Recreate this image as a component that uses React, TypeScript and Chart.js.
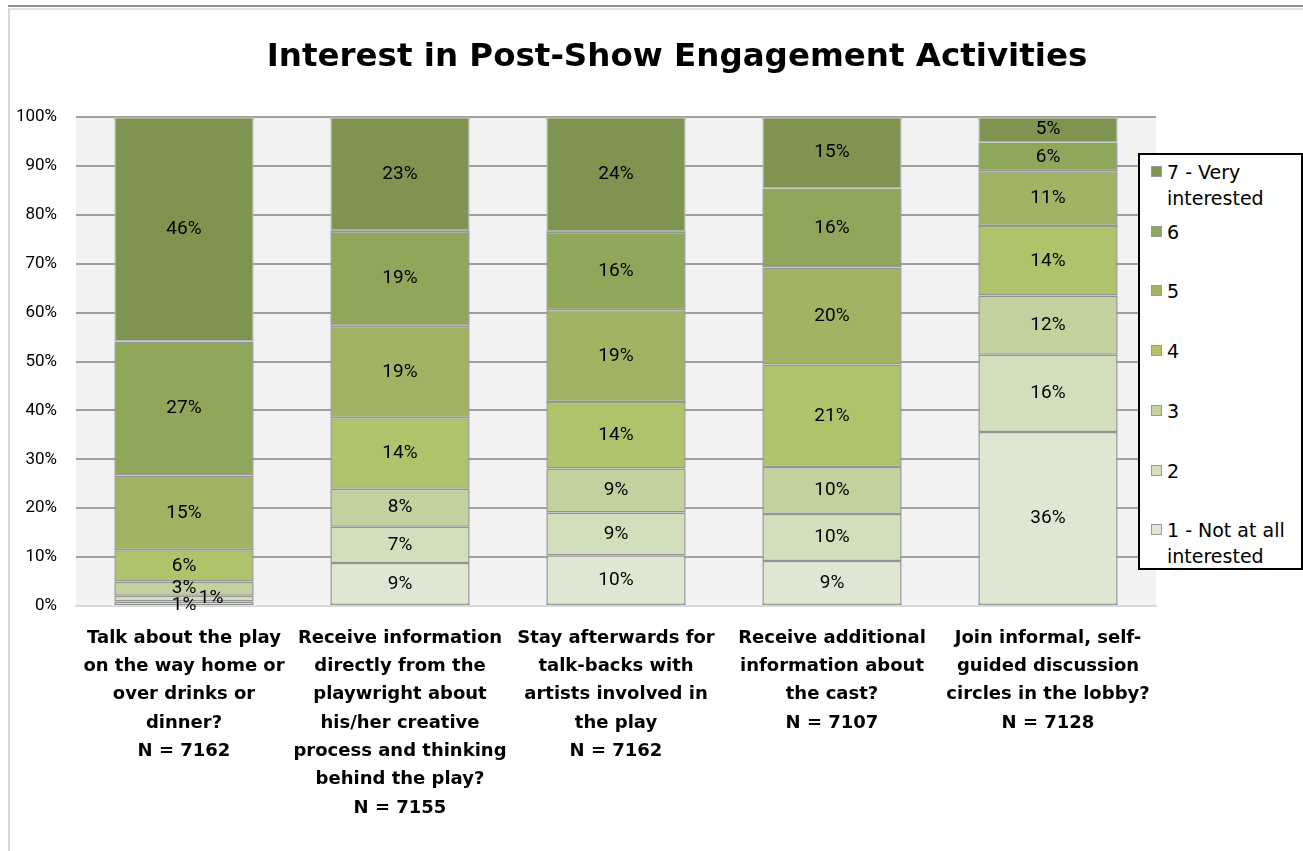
import React, { useEffect, useRef } from "react";
import { Chart, registerables } from "chart.js";

Chart.register(...registerables);

const titleText = "Interest in Post-Show Engagement Activities";

const categories: string[][] = [
  ["Talk about the play", "on the way home or", "over drinks or", "dinner?", "N = 7162"],
  ["Receive information", "directly from the", "playwright about", "his/her creative", "process and thinking", "behind the play?", "N = 7155"],
  ["Stay afterwards for", "talk-backs with", "artists involved in", "the play", "N = 7162"],
  ["Receive additional", "information about", "the cast?", "N = 7107"],
  ["Join informal, self-", "guided discussion", "circles in the lobby?", "N = 7128"],
];

const seriesNames = ["1 - Not at all interested", "2", "3", "4", "5", "6", "7 - Very interested"];
const legendLines = [["1 - Not at all", "interested"], ["2"], ["3"], ["4"], ["5"], ["6"], ["7 - Very", "interested"]];

const level1 = [0.9, 8.8, 10.4, 9.2, 35.6];
const level2 = [1.2, 7.4, 8.7, 9.6, 15.8];
const level3 = [2.9, 7.8, 9.0, 9.6, 12.1];
const level4 = [6.4, 14.4, 13.6, 21.0, 14.2];
const level5 = [15.3, 18.9, 18.8, 19.8, 11.2];
const level6 = [27.4, 19.4, 16.0, 16.2, 5.9];
const level7 = [45.9, 23.3, 23.5, 14.6, 5.2];

const seriesValues = [level1, level2, level3, level4, level5, level6, level7];
const seriesColors = ["#DFE7D3", "#D1DFBC", "#C1D29F", "#ADC46B", "#A0B463", "#8FA75A", "#7F9450"];

const yTickSuffix = "%";

const plotBgPlugin = {
  id: "plotBg",
  beforeDraw(chart: any) {
    const { ctx, chartArea } = chart;
    ctx.save();
    ctx.fillStyle = "#F2F2F2";
    ctx.fillRect(chartArea.left, chartArea.top, chartArea.right - chartArea.left, chartArea.bottom - chartArea.top);
    ctx.restore();
  },
};

const valueLabelPlugin = {
  id: "valueLabels",
  afterDatasetsDraw(chart: any) {
    const { ctx } = chart;
    ctx.save();
    ctx.font = "19px Roboto";
    ctx.fillStyle = "#000";
    ctx.textAlign = "center";
    ctx.textBaseline = "middle";
    const lastY: Record<number, number> = {};
    chart.data.datasets.forEach((ds: any, di: number) => {
      const meta = chart.getDatasetMeta(di);
      meta.data.forEach((el: any, i: number) => {
        const p = el.getProps(["x", "y", "base"], true);
        const cy = (p.y + p.base) / 2;
        let cx = p.x;
        const txt = Math.round(ds.data[i]) + "%";
        if (lastY[i] !== undefined && Math.abs(lastY[i] - cy) < 12) {
          cx += 27;
        } else {
          lastY[i] = cy;
        }
        ctx.fillText(txt, cx, cy + (Math.abs(p.base - p.y) < 6 && di === 0 ? 2 : 0));
      });
    });
    ctx.restore();
  },
};

export default function App() {
  const canvasRef = useRef<HTMLCanvasElement | null>(null);

  useEffect(() => {
    if (!canvasRef.current) return;
    const chart = new Chart(canvasRef.current, {
      type: "bar",
      data: {
        labels: categories as any,
        datasets: seriesValues.map((vals, i) => ({
          label: seriesNames[i],
          data: vals,
          backgroundColor: seriesColors[i],
          borderColor: i === 6 ? "#B0B0B0" : "#959595",
          borderWidth: 1.5,
          borderSkipped: false,
          categoryPercentage: 1,
          barPercentage: 0.645,
        })),
      },
      options: {
        responsive: false,
        animation: false,
        layout: { padding: { top: 117, right: 147, bottom: 0, left: 0 } },
        plugins: {
          legend: { display: false },
          title: { display: false },
          tooltip: { enabled: false },
        },
        scales: {
          x: {
            stacked: true,
            grid: { display: false },
            border: { display: true, color: "#D9D9D9", width: 2 },
            ticks: {
              color: "#000",
              autoSkip: false,
              maxRotation: 0,
              padding: 10,
              font: { family: "DejaVu Sans", weight: "bold", size: 18, lineHeight: "28.3px" } as any,
            },
            afterFit: (s: any) => {
              s.height = 245;
            },
          },
          y: {
            stacked: true,
            min: 0,
            max: 100,
            border: { display: false },
            grid: {
              color: (c: any) => (c.tick && c.tick.value === 0 ? "#D9D9D9" : "#A0A0A0"),
              lineWidth: 2,
              drawTicks: false,
            },
            ticks: {
              stepSize: 10,
              padding: 19,
              color: "#000",
              font: { family: "Roboto", size: 17 },
              callback: (v: any) => v + yTickSuffix,
            },
            afterFit: (s: any) => {
              s.width = 76;
            },
          },
        },
      },
      plugins: [plotBgPlugin, valueLabelPlugin],
    });
    return () => chart.destroy();
  }, []);

  const legendOrder = [6, 5, 4, 3, 2, 1, 0];

  return (
    <div style={{ position: "fixed", left: 0, top: 0, width: 1303, height: 851, background: "#fff", overflow: "hidden" }}>
      <div style={{ position: "absolute", left: 8, top: 5, width: 1295, height: 2, background: "#8E8E8E" }} />
      <div style={{ position: "absolute", left: 8, top: 8, width: 1295, height: 843, borderLeft: "2px solid #D9D9D9", borderTop: "2px solid #E3E3E3", boxSizing: "border-box" }} />
      <canvas ref={canvasRef} width={1303} height={851} style={{ position: "absolute", left: 0, top: 0, width: 1303, height: 851 }} />
      <div
        style={{
          position: "absolute",
          left: 51,
          width: 1252,
          top: 33,
          lineHeight: "44px",
          textAlign: "center",
          fontFamily: "DejaVu Sans",
          fontWeight: "bold",
          fontSize: 32.5,
          color: "#000",
        }}
      >
        {titleText}
      </div>
      <div
        style={{
          position: "absolute",
          left: 1138,
          top: 153,
          width: 165,
          height: 417,
          border: "2px solid #000",
          boxSizing: "border-box",
          background: "#fff",
          fontFamily: "DejaVu Sans",
          fontSize: 19,
          color: "#000",
        }}
      >
        {legendOrder.map((si, k) => {
          const centerY = 17 + k * 59.7;
          return (
            <div key={si} style={{ position: "absolute", left: 0, top: centerY - 13, width: 161 }}>
              <div
                style={{
                  position: "absolute",
                  left: 11,
                  top: 7,
                  width: 9,
                  height: 9,
                  background: seriesColors[si],
                  border: "1.5px solid #9A9A9A",
                }}
              />
              <div style={{ position: "absolute", left: 27, top: 0, lineHeight: "26px", whiteSpace: "nowrap" }}>
                {legendLines[si].map((l, j) => (
                  <div key={j}>{l}</div>
                ))}
              </div>
            </div>
          );
        })}
      </div>
    </div>
  );
}
